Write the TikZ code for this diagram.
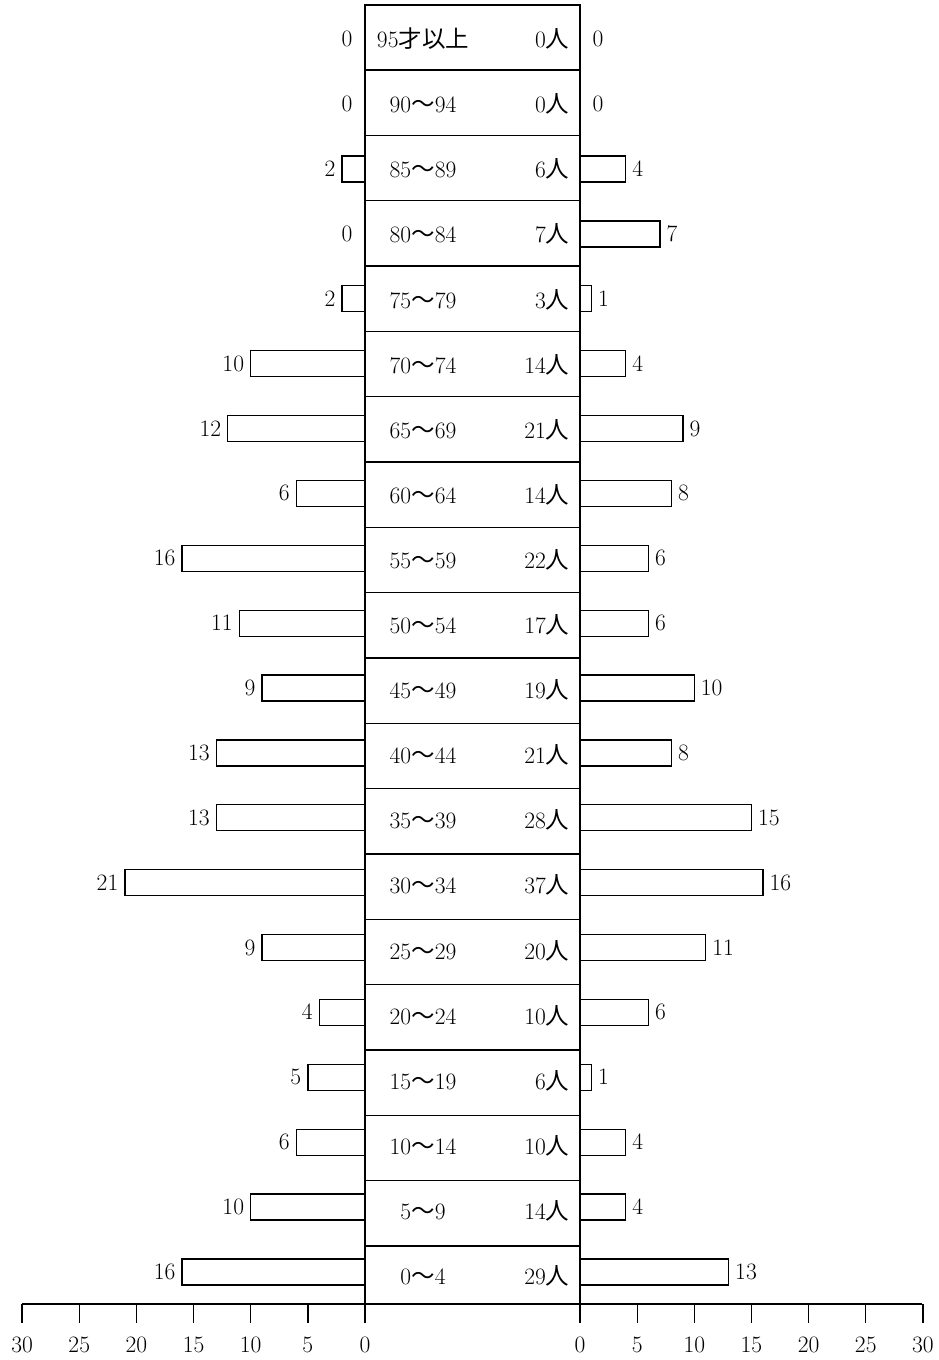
\documentclass[tikz,border=0pt]{standalone}
\usepackage{fontspec}
\newfontfamily\jp{Noto Sans CJK JP}
\newcommand\wv{{\jp ～}}
\newcommand\nin{{\jp 人}}
\begin{document}
\begin{tikzpicture}[x=1pt,y=-1pt,line width=1.3pt,
  font=\fontsize{23.5}{27}\selectfont,
  lbl/.style={inner sep=0pt},
  barbox/.style={draw,line width=1.3pt}]
\useasboundingbox (0,0) rectangle (939,1360);
% central column
\draw (365,1323) -- (365,5) -- (580,5) -- (580,1323);
\foreach \k in {1,...,19} \draw (365,{4.67+65.33*\k}) -- (580,{4.67+65.33*\k});
% axis
\coordinate (axL) at (22,1304);
\coordinate (axR) at (922,1304);
\draw (axL) -- (axR);
\foreach \v in {0,5,...,30}{
  \draw ({365-11.43*\v},1304) -- ({365-11.43*\v},1323);
  \draw ({580+11.43*\v},1304) -- ({580+11.43*\v},1323);
  \node[lbl,anchor=base] (tl\v) at ({365-11.43*\v},1352.5) {\v};
  \node[lbl,anchor=base] (tr\v) at ({580+11.43*\v},1352.5) {\v};
}
% rows
\foreach \i/\age/\m/\f/\t in {
  0/{95{\jp 才以上}}/0/0/0,
  1/{90\wv94}/0/0/0,
  2/{85\wv89}/2/4/6,
  3/{80\wv84}/0/7/7,
  4/{75\wv79}/2/1/3,
  5/{70\wv74}/10/4/14,
  6/{65\wv69}/12/9/21,
  7/{60\wv64}/6/8/14,
  8/{55\wv59}/16/6/22,
  9/{50\wv54}/11/6/17,
  10/{45\wv49}/9/10/19,
  11/{40\wv44}/13/8/21,
  12/{35\wv39}/13/15/28,
  13/{30\wv34}/21/16/37,
  14/{25\wv29}/9/11/20,
  15/{20\wv24}/4/6/10,
  16/{15\wv19}/5/1/6,
  17/{10\wv14}/6/4/10,
  18/{5\wv9}/10/4/14,
  19/{0\wv4}/16/13/29}{
  \pgfmathsetmacro\yc{39.24+64.88*\i}
  \pgfmathsetmacro\yb{47.6+65.1*\i}
  \node[lbl,anchor=base] (age\i) at (423,\yb) {\age};
  \node[lbl,anchor=base east] (tot\i) at (570,\yb) {\t\nin};
  \ifnum\m>0 \draw[barbox] (365,\yc-13) rectangle ({365-11.43*\m},\yc+13);\fi
  \ifnum\f>0 \draw[barbox] (580,\yc-13) rectangle ({580+11.43*\f},\yc+13);\fi
  \pgfmathsetmacro\xl{\m>0 ? 365-11.43*\m-6 : 353}
  \pgfmathsetmacro\xr{\f>0 ? 580+11.43*\f+6 : 592}
  \node[lbl,anchor=base east] (m\i) at (\xl,\yc+7.5) {\m};
  \node[lbl,anchor=base west] (f\i) at (\xr,\yc+7.5) {\f};
}
\end{tikzpicture}
\end{document}
